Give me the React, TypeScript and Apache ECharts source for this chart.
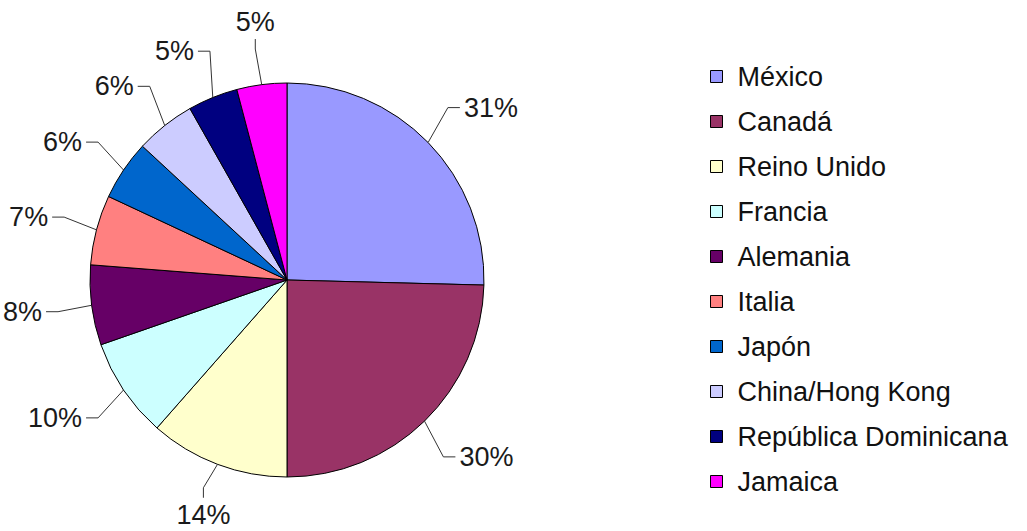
import React, { useEffect, useRef } from "react";
import * as echarts from "echarts";

const FONT = '"Liberation Sans", Arial, Helvetica, sans-serif';

const countries = [
  "México",
  "Canadá",
  "Reino Unido",
  "Francia",
  "Alemania",
  "Italia",
  "Japón",
  "China/Hong Kong",
  "República Dominicana",
  "Jamaica",
];
const shares = [31, 30, 14, 10, 8, 7, 6, 6, 5, 5];
const colors = [
  "#9999FF",
  "#993366",
  "#FFFFCC",
  "#CCFFFF",
  "#660066",
  "#FF8080",
  "#0066CC",
  "#CCCCFF",
  "#000080",
  "#FF00FF",
];

export default function App() {
  const ref = useRef<HTMLDivElement>(null);
  useEffect(() => {
    const chart = echarts.init(ref.current!, null, { renderer: "svg" });

    // Place each label radially outside its slice, using the pie's own layout.
    const labelLayout = (params: any) => {
      const model = (chart as any).getModel();
      const data = model.getSeriesByIndex(0).getData();
      const lay = data.getItemLayout(params.dataIndex);
      if (!lay) return {};
      const mid = (lay.startAngle + lay.endAngle) / 2;
      const dx = Math.cos(mid);
      const dy = Math.sin(mid);
      const ex = lay.cx + lay.r * dx;
      const ey = lay.cy + lay.r * dy;
      if (Math.abs(dx) < 0.365) {
        const top = dy < 0;
        const R = lay.r + (top ? 50 : 40);
        const px = lay.cx + R * dx;
        const py = lay.cy + R * dy;
        const ty = py + (top ? 4 : -4);
        return {
          x: px,
          y: py,
          align: "center",
          verticalAlign: top ? "bottom" : "top",
          labelLinePoints: [
            [ex, ey],
            [px, ty + (top ? 10 : -10)],
            [px, ty],
          ],
        };
      }
      const R = lay.r + 50;
      const px = lay.cx + R * dx;
      const py = lay.cy + R * dy;
      const s = dx > 0 ? 1 : -1;
      const tx = px - s * 4;
      return {
        x: px,
        y: py,
        align: s > 0 ? "left" : "right",
        verticalAlign: "middle",
        labelLinePoints: [
          [ex, ey],
          [tx - s * 12, py],
          [tx, py],
        ],
      };
    };

    chart.setOption({
      animation: false,
      backgroundColor: "#ffffff",
      color: colors,
      legend: {
        orient: "vertical",
        left: 705,
        top: 58,
        itemWidth: 12,
        itemHeight: 12,
        itemGap: 18,
        icon: "rect",
        itemStyle: { borderColor: "#000", borderWidth: 1 },
        textStyle: {
          fontSize: 27,
          color: "#111",
          fontFamily: FONT,
          padding: [0, 0, 0, 10],
        },
        data: countries,
      },
      series: [
        {
          type: "pie",
          center: [287, 280],
          radius: 197,
          startAngle: 90,
          clockwise: true,
          avoidLabelOverlap: false,
          itemStyle: { borderColor: "#000", borderWidth: 1 },
          label: {
            formatter: "{c}%",
            fontSize: 27,
            color: "#1a1a1a",
            fontFamily: FONT,
            overflow: "none",
          },
          labelLine: {
            length: 5,
            length2: 5,
            lineStyle: { color: "#333", width: 1 },
          },
          labelLayout,
          emphasis: { disabled: true },
          data: countries.map((n, i) => ({ name: n, value: shares[i] })),
        },
      ],
    });
    return () => chart.dispose();
  }, []);
  return (
    <div
      ref={ref}
      style={{ position: "fixed", left: 0, top: 0, width: 1027, height: 531 }}
    />
  );
}
